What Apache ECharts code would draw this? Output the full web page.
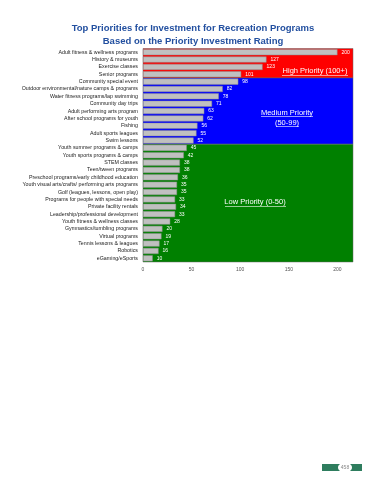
<!DOCTYPE html>
<html><head><meta charset="utf-8">
<script src="https://cdn.jsdelivr.net/npm/echarts@6/dist/echarts.min.js"></script>
<style>html,body{margin:0;padding:0;background:#fff}#c{width:370px;height:480px}</style>
</head><body><div id="c"></div>
<script>
const categories = [
  "Adult fitness & wellness programs","History & museums","Exercise classes","Senior programs",
  "Community special event","Outdoor environmental/nature camps & programs","Water fitness programs/lap swimming",
  "Community day trips","Adult performing arts program","After school programs for youth","Fishing",
  "Adult sports leagues","Swim lessons","Youth summer programs & camps","Youth sports programs & camps",
  "STEM classes","Teen/tween programs","Preschool programs/early childhood education",
  "Youth visual arts/crafts/ performing arts programs","Golf (leagues, lessons, open play)",
  "Programs for people with special needs","Private facility rentals","Leadership/professional development",
  "Youth fitness & wellness classes","Gymnastics/tumbling programs","Virtual programs",
  "Tennis lessons & leagues","Robotics","eGaming/eSports"
];
const ratings = [200,127,123,101,98,82,78,71,63,62,56,55,52,45,42,38,38,36,35,35,33,34,33,28,20,19,17,16,10];
const xTicks = [0,50,100,150,200];
const bandNames = ["High Priority (100+)","Medium Priority\n(50-99)","Low Priority (0-50)"];
const bandStartRow = [0,4,13];
const bandEndRow = [4,13,29];
const bandColors = ["#FF0000","#0000FF","#008000"];

const chart = echarts.init(document.getElementById('c'), null, {renderer:'canvas'});
const font = "'Liberation Sans', Arial, sans-serif";
const option = {
  animation:false,
  title:{
    text:"Top Priorities for Investment for Recreation Programs\nBased on the Priority Investment Rating",
    left:188, textAlign:'center', top:17,
    textStyle:{color:'#2350A0', fontSize:9.5, fontWeight:'bold', fontFamily:font, lineHeight:13}
  },
  grid:{left:143, right:17, top:48.5, bottom:218, containLabel:false},
  xAxis:[{
    type:'value', min:0, max:216, interval:50,
    axisLine:{show:false}, axisTick:{show:false}, splitLine:{show:false},
    axisLabel:{fontSize:5, color:'#555', fontFamily:font, showMaxLabel:false, margin:5,
      formatter:v=>xTicks.includes(v)?String(v):''}
  }],
  yAxis:[{
    type:'category', data:categories, inverse:true,
    axisLine:{show:false}, axisTick:{show:false},
    axisLabel:{fontSize:5.3, color:'#222', fontFamily:font, margin:5, interval:0}
  },{
    type:'value', min:0, max:categories.length, inverse:true, show:false
  }],
  series:[{
    type:'bar', yAxisIndex:1, data:[], silent:true,
    markArea:{
      silent:true,
      data: bandStartRow.map((s,i)=>[
        {yAxis:s, itemStyle:{color:bandColors[i], borderColor:'#666', borderWidth:0.5}},
        {yAxis:bandEndRow[i]}
      ])
    }
  },{
    type:'bar', data:ratings, barCategoryGap:'18%', z:3,
    itemStyle:{color:'#C0C0C0', borderColor:'#8c8c8c', borderWidth:0.5},
    label:{show:true, position:'right', distance:4, fontSize:5, color:'#fff', fontFamily:font}
  }],
  graphic:[
    {type:'text', z:100, x:315, y:67, style:{text:bandNames[0], fill:'#fff', font:"7.5px "+font, align:'center'}},
    {type:'line', z:100, shape:{x1:282,y1:75.5,x2:348,y2:75.5}, style:{stroke:'#fff', lineWidth:0.6}},
    {type:'text', z:100, x:287, y:108, style:{text:bandNames[1], fill:'#fff', font:"7.5px "+font, align:'center', lineHeight:10}},
    {type:'line', z:100, shape:{x1:261,y1:116.5,x2:313,y2:116.5}, style:{stroke:'#fff', lineWidth:0.6}},
    {type:'line', z:100, shape:{x1:276,y1:126.5,x2:299,y2:126.5}, style:{stroke:'#fff', lineWidth:0.6}},
    {type:'text', z:100, x:255, y:198, style:{text:bandNames[2], fill:'#fff', font:"7.5px "+font, align:'center'}},
    {type:'line', z:100, shape:{x1:225,y1:206.5,x2:286,y2:206.5}, style:{stroke:'#fff', lineWidth:0.6}},
    {type:'rect', z:100, shape:{x:322,y:464,width:40,height:7}, style:{fill:'#2E7D5E'}},
    {type:'ellipse', z:101, shape:{cx:345,cy:467.5,rx:7,ry:5}, style:{fill:'#fff'}},
    {type:'text', z:102, x:345, y:465, style:{text:'458', fill:'#888', font:"5px "+font, align:'center'}}
  ]
};
chart.setOption(option);
</script></body></html>
